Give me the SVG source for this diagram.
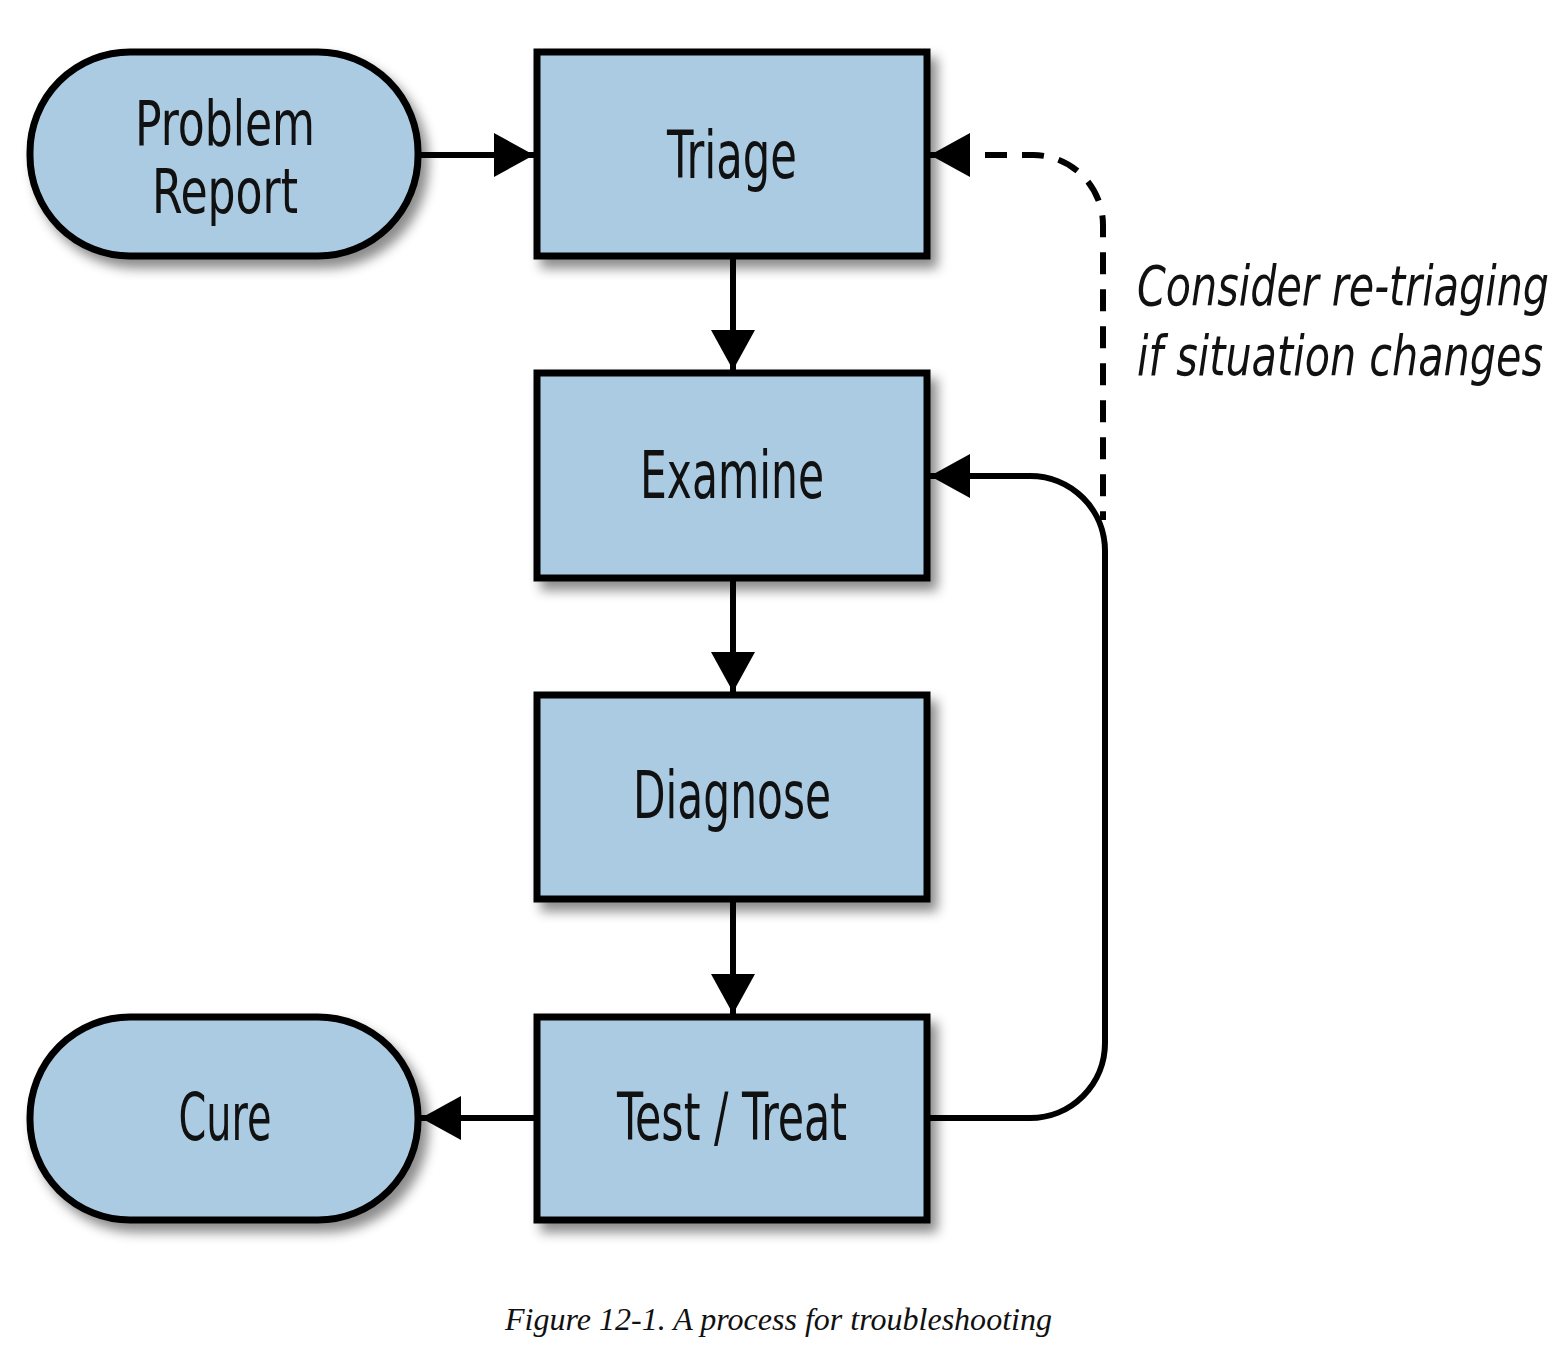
<svg xmlns="http://www.w3.org/2000/svg" width="1564" height="1366" viewBox="0 0 1564 1366">
<style>
.box{fill:#abcbe3;stroke:#000;stroke-width:7;filter:url(#sh)}
.lbl{font-family:"Liberation Sans Narrow","DejaVu Sans Condensed","Liberation Sans",sans-serif;font-size:66px;fill:#111;text-anchor:middle}
.lbl2{font-size:62px}
.note{font-family:"Liberation Sans Narrow","DejaVu Sans Condensed","Liberation Sans",sans-serif;font-size:56px;font-style:italic;fill:#111}
.cap{font-family:"Liberation Serif","Times New Roman",serif;font-size:32px;font-style:italic;fill:#111}
.ln{fill:none;stroke:#000;stroke-width:6}
.dash{stroke-dasharray:22 15}
</style>
<defs>
<filter id="sh" x="-20%" y="-20%" width="150%" height="150%">
<feDropShadow dx="7" dy="9" stdDeviation="6" flood-color="#000" flood-opacity="0.45"/>
</filter>
<marker id="ah" viewBox="0 0 40 44" refX="40" refY="22" markerWidth="40" markerHeight="44" markerUnits="userSpaceOnUse" orient="auto">
<path d="M0,0 L40,22 L0,44 z" fill="#000"/>
</marker>
</defs>
<rect width="1564" height="1366" fill="#fff"/>
<g id="connectors">
<path class="ln" d="M418 155 H534" marker-end="url(#ah)"/>
<path class="ln" d="M733 256 V370" marker-end="url(#ah)"/>
<path class="ln" d="M733 578 V692" marker-end="url(#ah)"/>
<path class="ln" d="M733 899 V1014" marker-end="url(#ah)"/>
<path class="ln" d="M537 1118 H421" marker-end="url(#ah)"/>
<path class="ln" d="M927 1118 H1030 A75 75 0 0 0 1105 1043 V551 A75 75 0 0 0 1030 476 H930" marker-end="url(#ah)"/>
<path class="ln dash" d="M985 155 H1033 A70 70 0 0 1 1103 225 V520"/>
<path class="ln" d="M968 155 H930" marker-end="url(#ah)"/>
</g>
<g id="problem-report">
<rect class="box" x="30" y="52" width="388" height="204" rx="100" ry="100"/>
<text class="lbl lbl2" x="225" y="145" textLength="180" lengthAdjust="spacingAndGlyphs">Problem</text>
<text class="lbl lbl2" x="225" y="213" textLength="146" lengthAdjust="spacingAndGlyphs">Report</text>
</g>
<g id="triage">
<rect class="box" x="537" y="52" width="390" height="204"/>
<text class="lbl" x="732" y="178" textLength="130" lengthAdjust="spacingAndGlyphs">Triage</text>
</g>
<g id="examine">
<rect class="box" x="537" y="373" width="390" height="205"/>
<text class="lbl" x="732" y="498" textLength="184" lengthAdjust="spacingAndGlyphs">Examine</text>
</g>
<g id="diagnose">
<rect class="box" x="537" y="695" width="390" height="204"/>
<text class="lbl" x="732" y="818" textLength="198" lengthAdjust="spacingAndGlyphs">Diagnose</text>
</g>
<g id="test-treat">
<rect class="box" x="537" y="1017" width="390" height="203"/>
<text class="lbl" x="732" y="1140" textLength="230" lengthAdjust="spacingAndGlyphs">Test / Treat</text>
</g>
<g id="cure">
<rect class="box" x="30" y="1017" width="388" height="203" rx="100" ry="100"/>
<text class="lbl" x="225" y="1140" textLength="93" lengthAdjust="spacingAndGlyphs">Cure</text>
</g>
<g id="note">
<text class="note" x="1137" y="305" textLength="412" lengthAdjust="spacingAndGlyphs">Consider re-triaging</text>
<text class="note" x="1137" y="375" textLength="406" lengthAdjust="spacingAndGlyphs">if situation changes</text>
</g>
<text class="cap" x="505" y="1330" textLength="547" lengthAdjust="spacingAndGlyphs">Figure 12-1. A process for troubleshooting</text>
</svg>
